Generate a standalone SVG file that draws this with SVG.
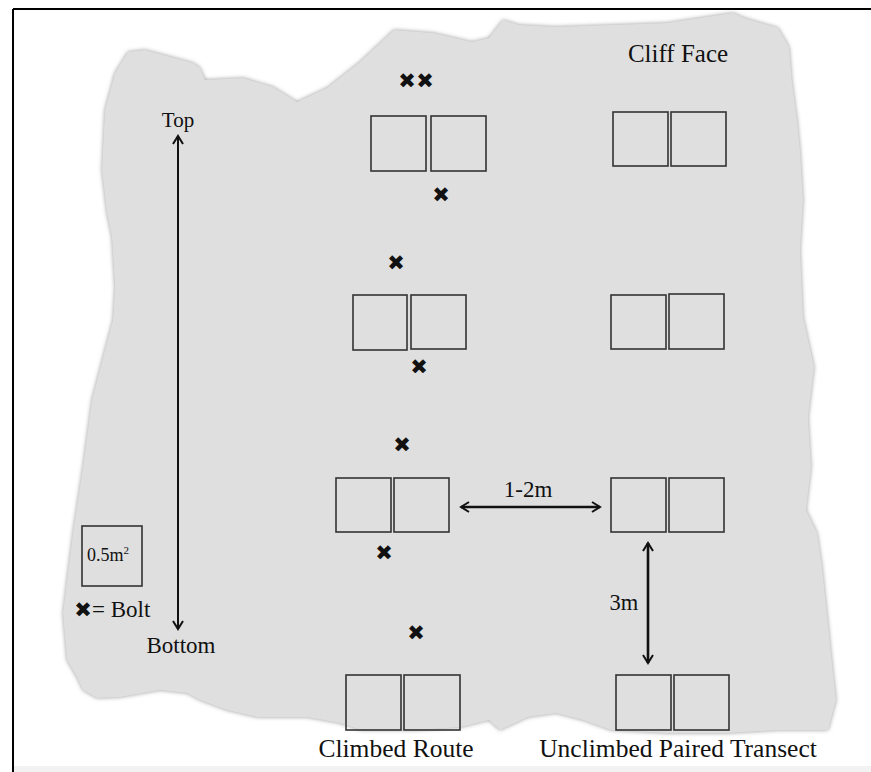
<svg xmlns="http://www.w3.org/2000/svg" width="871" height="772" viewBox="0 0 871 772">
<defs>
<filter id="soft" x="-5%" y="-5%" width="110%" height="110%">
<feGaussianBlur stdDeviation="2.2"/>
</filter>
<marker id="ah" viewBox="0 0 12 12" refX="10" refY="6" markerWidth="12" markerHeight="12" markerUnits="userSpaceOnUse" orient="auto-start-reverse">
<path d="M2,1 L10,6 L2,11" fill="none" stroke="#111" stroke-width="2"/>
</marker>
<path id="cliff" d="M128,52 L145,50 L193,63 L200,68 L205,80 L243,78 L273,87 L297,102 L327,88 L360,62 L394,30 L433,33 L472,42 L489,38 L503,20 L519,25 L556,27 L611,25 L667,23 L733,13 L744,18 L778,28 L789,47 L792,83 L797,120 L800,150 L803,200 L800,250 L803,317 L814,367 L808,417 L811,467 L806,510 L817,533 L822,567 L833,673 L836,700 L828,730 L778,730 L728,733 L667,733 L611,730 L583,720 L556,713 L528,717 L500,730 L489,720 L461,727 L417,730 L361,730 L340,723 L307,717 L257,717 L227,710 L200,700 L187,693 L160,690 L120,697 L97,698 L83,690 L77,677 L67,660 L63,613 L73,533 L83,467 L92,400 L105,350 L113,320 L115,287 L112,237 L107,213 L102,170 L105,110 L115,73 Z"/>
</defs>
<style>
.box{fill:none;stroke:#333;stroke-width:1.6}
.t{font-family:"Liberation Serif","Times New Roman",serif;fill:#111}
.bolt{font-family:"DejaVu Sans",sans-serif;font-size:21px;fill:#111;text-anchor:middle;dominant-baseline:central}
.arr{stroke:#111;fill:none}
</style>
<rect width="871" height="772" fill="#fff"/>
<rect x="13" y="766" width="858" height="6" fill="#f2f2f2"/>
<line x1="13" y1="9" x2="871" y2="9" stroke="#000" stroke-width="2"/>
<line x1="13" y1="9" x2="13" y2="772" stroke="#000" stroke-width="2"/>
<g id="cliff-face">
<use href="#cliff" fill="#9a9a9a" filter="url(#soft)"/>
<use href="#cliff" fill="#dfdfdf"/>
<text class="t" x="678" y="62" font-size="25" text-anchor="middle">Cliff Face</text>
</g>
<g id="climbed-1"><rect class="box" x="371" y="116" width="55" height="55"/><rect class="box" x="431" y="116" width="55" height="55"/></g>
<g id="unclimbed-1"><rect class="box" x="613" y="112" width="55" height="54"/><rect class="box" x="671" y="112" width="55" height="54"/></g>
<g id="climbed-2"><rect class="box" x="353" y="295" width="54" height="55"/><rect class="box" x="411" y="295" width="55" height="54"/></g>
<g id="unclimbed-2"><rect class="box" x="611" y="295" width="55" height="54"/><rect class="box" x="669" y="294" width="55" height="55"/></g>
<g id="climbed-3"><rect class="box" x="336" y="478" width="55" height="54"/><rect class="box" x="394" y="478" width="55" height="54"/></g>
<g id="unclimbed-3"><rect class="box" x="611" y="478" width="55" height="54"/><rect class="box" x="669" y="478" width="55" height="54"/></g>
<g id="climbed-4"><rect class="box" x="346" y="675" width="55" height="55"/><rect class="box" x="404" y="675" width="56" height="55"/></g>
<g id="unclimbed-4"><rect class="box" x="616" y="675" width="55" height="55"/><rect class="box" x="674" y="675" width="55" height="55"/></g>
<g id="bolts">
<text class="bolt" x="407" y="81">✖</text>
<text class="bolt" x="425" y="81">✖</text>
<text class="bolt" x="441" y="195">✖</text>
<text class="bolt" x="396" y="263">✖</text>
<text class="bolt" x="419" y="367">✖</text>
<text class="bolt" x="402" y="445">✖</text>
<text class="bolt" x="384" y="553">✖</text>
<text class="bolt" x="416" y="633">✖</text>
</g>
<g id="legend">
<rect class="box" x="82" y="526" width="60" height="60"/>
<text class="t" x="87" y="561" font-size="18">0.5m<tspan dy="-7" font-size="11">2</tspan></text>
<text class="bolt" x="83" y="610">✖</text>
<text class="t" x="92" y="617" font-size="23">= Bolt</text>
</g>
<g id="connectors">
<line class="arr" x1="178" y1="136" x2="178" y2="629" stroke-width="2" marker-start="url(#ah)" marker-end="url(#ah)"/>
<line class="arr" x1="461" y1="507" x2="600" y2="507" stroke-width="2.6" marker-start="url(#ah)" marker-end="url(#ah)"/>
<line class="arr" x1="648" y1="543" x2="648" y2="663" stroke-width="2.6" marker-start="url(#ah)" marker-end="url(#ah)"/>
</g>
<g id="labels">
<text class="t" x="178" y="127" font-size="21" text-anchor="middle">Top</text>
<text class="t" x="181" y="653" font-size="23" text-anchor="middle">Bottom</text>
<text class="t" x="528" y="497" font-size="23" text-anchor="middle">1-2m</text>
<text class="t" x="624" y="610" font-size="22.5" text-anchor="middle">3m</text>
<text class="t" x="396" y="757" font-size="25.5" text-anchor="middle">Climbed Route</text>
<text class="t" x="678" y="757" font-size="25.5" text-anchor="middle">Unclimbed Paired Transect</text>
</g>
</svg>
